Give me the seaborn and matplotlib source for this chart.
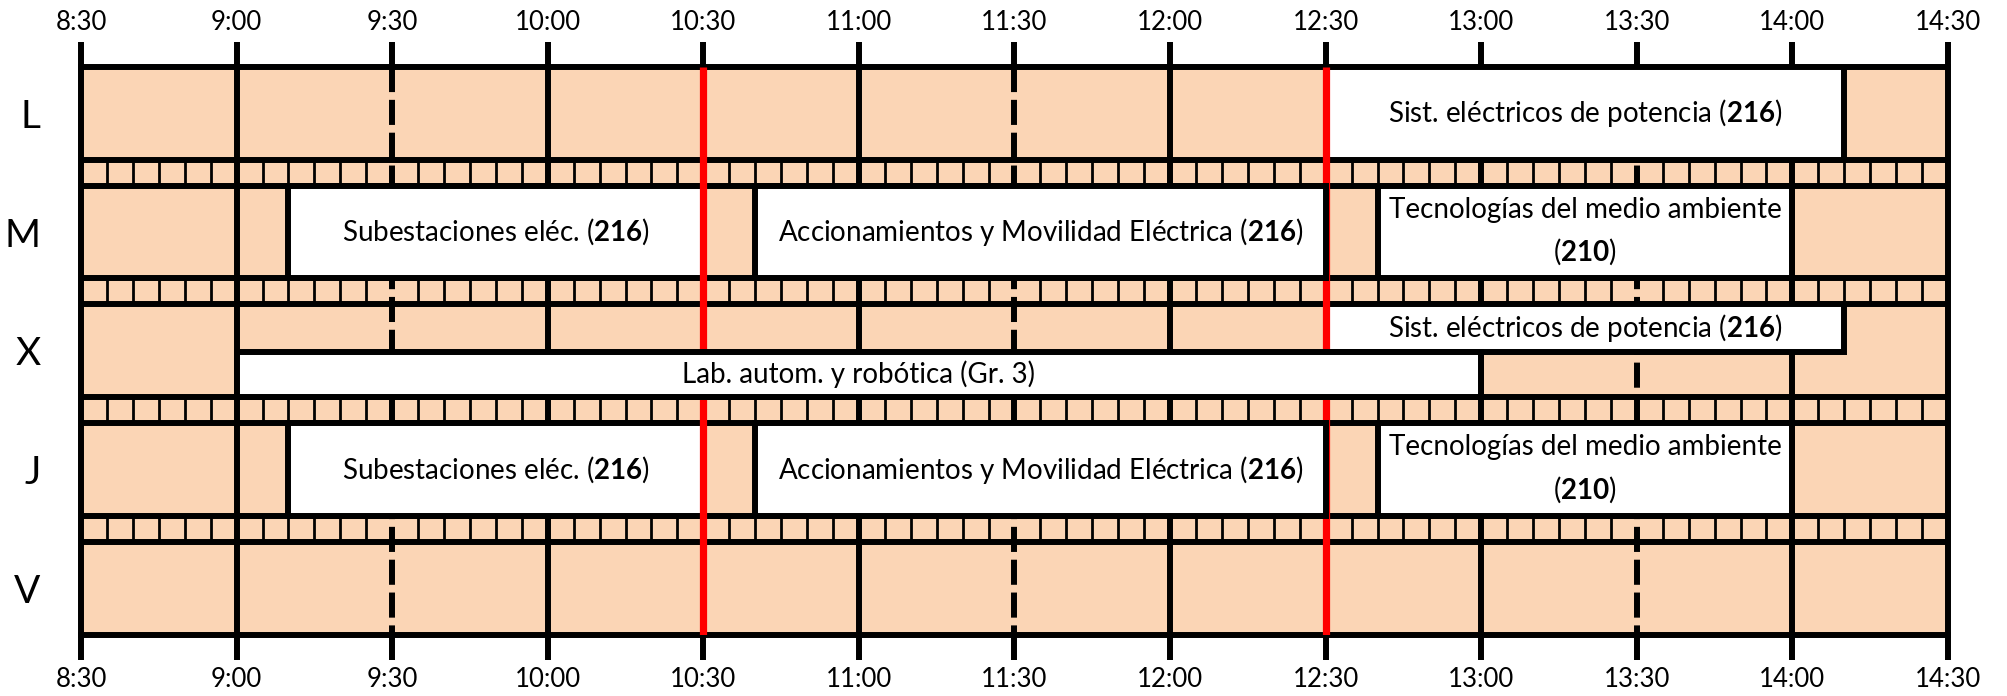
import matplotlib
matplotlib.use("Agg")
import matplotlib.pyplot as plt
import seaborn as sns
import numpy as np

# rows (days) and time grid
days = ["L", "M", "X", "J", "V"]
hour_labels = ["8:30", "9:00", "9:30", "10:00", "10:30", "11:00", "11:30",
               "12:00", "12:30", "13:00", "13:30", "14:00", "14:30"]
red_times = ["10:30", "12:30"]

# classes
class_day = ["L", "M", "M", "M", "X", "X", "J", "J", "J"]
class_start = ["12:30", "9:10", "10:40", "12:40", "12:30", "9:00", "9:10", "10:40", "12:40"]
class_end = ["14:10", "10:30", "12:30", "14:00", "14:10", "13:00", "10:30", "12:30", "14:00"]
class_name = ["Sist. eléctricos de potencia", "Subestaciones eléc.",
              "Accionamientos y Movilidad Eléctrica", "Tecnologías del medio ambiente",
              "Sist. eléctricos de potencia", "Lab. autom. y robótica (Gr. 3)",
              "Subestaciones eléc.", "Accionamientos y Movilidad Eléctrica",
              "Tecnologías del medio ambiente"]
class_room = ["216", "216", "216", "210", "216", "", "216", "216", "210"]
class_sep = [" ", " ", " ", "\n", " ", " ", " ", " ", "\n"]
class_part = ["full", "full", "full", "full", "top", "bottom", "full", "full", "full"]
class_over_red = [False, False, True, False, False, True, False, True, False]

ORANGE = "#FBD5B5"
LW = 4.3
THIN = 2.0
ROW_H = 0.78
SPLIT = 0.40


def to_min(t):
    h, m = t.split(":")
    return int(h) * 60 + int(m) - 510


sns.set_theme(style="white", rc={"text.color": "black", "xtick.color": "black",
                                 "ytick.color": "black", "axes.edgecolor": "black"})
plt.rcParams["font.family"] = ["Lato", "DejaVu Sans"]
plt.rcParams["mathtext.fontset"] = "custom"
plt.rcParams["mathtext.rm"] = "Lato"
plt.rcParams["mathtext.bf"] = "Lato:bold"

fig = plt.figure(figsize=(20.08, 6.96), dpi=100)
ax = fig.add_axes([81 / 2008, 1 - 634.6 / 696, 1867 / 2008, 567.6 / 696])
ax.set_facecolor(ORANGE)
total = to_min(hour_labels[-1])
bottom = len(days) - 1 + ROW_H
ax.set_xlim(0, total)
ax.set_ylim(bottom, 0)

# horizontal borders between rows and stripes
for i in range(len(days) - 1):
    ax.hlines([i + ROW_H, i + 1], 0, total, color="black", lw=LW, zorder=2)

# 5-minute dividers in the stripes
small = [m for m in range(5, total, 5) if m % 30 != 0]
xs, y0s, y1s = [], [], []
for i in range(len(days) - 1):
    for m in small:
        xs.append(m)
        y0s.append(i + ROW_H)
        y1s.append(i + 1)
ax.vlines(xs, y0s, y1s, color="black", lw=THIN, zorder=2)

# hour and half-hour lines
for t in hour_labels[1:-1]:
    if t in red_times:
        continue
    m = to_min(t)
    if t.endswith(":00"):
        ax.vlines(m, 0, bottom, color="black", lw=LW, zorder=3)
    else:
        ax.vlines(m, 0, bottom, color="black", lw=LW, zorder=3,
                  linestyles=[(0, (4.2, 1.3))])

# red lines
ax.vlines([to_min(t) for t in red_times], 0, bottom, color="red", lw=5.2, zorder=5)

# class boxes
for d, s, e, name, room, sep, part, over in zip(class_day, class_start, class_end,
                                                class_name, class_room, class_sep,
                                                class_part, class_over_red):
    r = days.index(d)
    if part == "full":
        y0, h = r, ROW_H
    elif part == "top":
        y0, h = r, SPLIT
    else:
        y0, h = r + SPLIT, ROW_H - SPLIT
    x0, x1 = to_min(s), to_min(e)
    z = 6 if over else 4
    ax.barh(y0 + h / 2, x1 - x0, left=x0, height=h, color="white",
            edgecolor="black", linewidth=LW, zorder=z)
    label = name
    if room:
        label = name + sep + "($\\mathbf{" + room + "}$)"
    ax.text((x0 + x1) / 2, y0 + h / 2, label, ha="center", va="center",
            fontsize=20, linespacing=1.58, zorder=7)

# axes frame, ticks and labels
for sp in ax.spines.values():
    sp.set_visible(True)
    sp.set_linewidth(LW)
    sp.set_color("black")
ax.set_xticks([to_min(t) for t in hour_labels])
ax.set_xticklabels(hour_labels)
ax.tick_params(axis="x", direction="out", length=18, width=LW, top=True, bottom=True,
               labeltop=True, labelbottom=True, labelsize=18.5, pad=5)
ax.set_yticks([i + ROW_H / 2 for i in range(len(days))])
ax.set_yticklabels(days)
ax.tick_params(axis="y", length=0, labelsize=28, pad=29)
ax.grid(False)

fig.savefig("out.png", dpi=100)
